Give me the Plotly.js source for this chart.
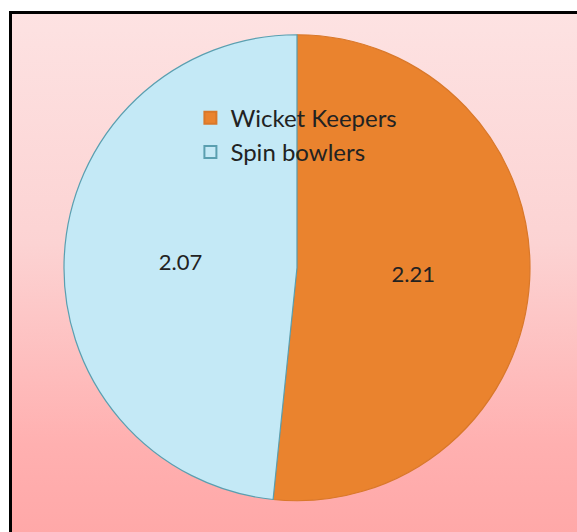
<!DOCTYPE html>
<html>
<head>
<meta charset="utf-8">
<script src="https://cdn.plot.ly/plotly-3.0.1.min.js"></script>
<style>
  html, body { margin: 0; padding: 0; width: 577px; height: 532px; overflow: hidden; background: #ffffff; }
  #frame {
    position: absolute; left: 9px; top: 11px; width: 620px; height: 580px;
    border: 3px solid #000; box-sizing: border-box;
    background: linear-gradient(to bottom, #fde2e2 0%, #fcd3d3 40%, #ffb0b0 75%, #ffa3a3 100%);
  }
  #plot { position: absolute; left: 0; top: 0; width: 577px; height: 532px; }
</style>
</head>
<body>
<div id="frame"></div>
<div id="plot"></div>
<script>
const categories = ["Wicket Keepers", "Spin bowlers"];
const values = [2.21, 2.07];
const sliceColors = ["#ea832e", "#c4e9f6"];
const lineColors = ["#d9782a", "#5a9fb0"];

const trace = {
  type: "pie",
  labels: categories,
  values: values,
  sort: false,
  direction: "clockwise",
  rotation: 0,
  textinfo: "value",
  textposition: "inside",
  insidetextorientation: "horizontal",
  texttemplate: "%{value:.2f}",
  hoverinfo: "label+value",
  marker: { colors: sliceColors, line: { color: lineColors, width: 1.2 } },
  textfont: { family: "Lato, 'Open Sans', sans-serif", size: 22, color: "#222222" },
  domain: { x: [0.1109, 0.9185], y: [0.0588, 0.9347] }
};

const layout = {
  width: 577, height: 532,
  margin: { l: 0, r: 0, t: 0, b: 0 },
  paper_bgcolor: "rgba(0,0,0,0)",
  plot_bgcolor: "rgba(0,0,0,0)",
  showlegend: true,
  legend: {
    x: 0.33, y: 0.82, xanchor: "left", yanchor: "top",
    bgcolor: "rgba(0,0,0,0)",
    font: { family: "Lato, 'Open Sans', sans-serif", size: 24, color: "#222222" },
    itemsizing: "constant",
    tracegroupgap: 0
  }
};

Plotly.newPlot("plot", [trace], layout, { displayModeBar: false, staticPlot: true });
</script>
</body>
</html>
